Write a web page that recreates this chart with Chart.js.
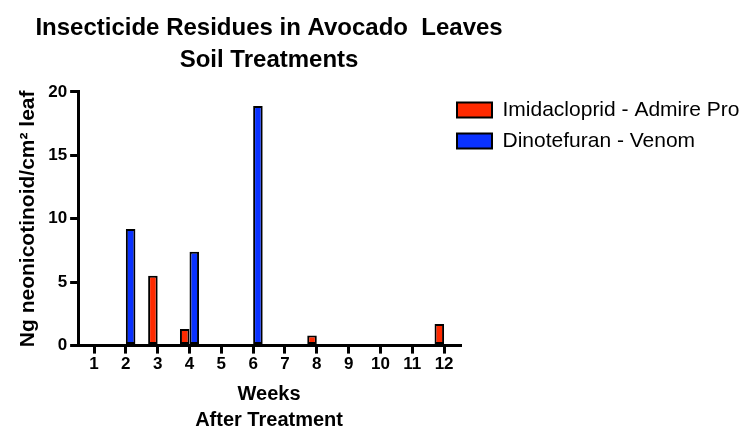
<!DOCTYPE html>
<html>
<head>
<meta charset="utf-8">
<script src="https://cdn.jsdelivr.net/npm/chart.js@4.4.0/dist/chart.umd.min.js"></script>
<style>
html,body{margin:0;padding:0;background:#fff;}
canvas{display:block;}
</style>
</head>
<body>
<canvas id="c" width="740" height="427"></canvas>
<script>
// ---- data ----
const weeks = ['1','2','3','4','5','6','7','8','9','10','11','12'];
const imidacloprid = [0, 0, 5.5, 1.3, 0, 0, 0, 0.8, 0, 0, 0, 1.7];
const dinotefuran  = [0, 9.2, 0, 7.4, 0, 18.9, 0, 0, 0, 0, 0, 0];
const seriesNames = ['Imidacloprid - Admire Pro', 'Dinotefuran - Venom'];
const yTicks = [0, 5, 10, 15, 20];
const titleLines = ['Insecticide Residues in Avocado  Leaves', 'Soil Treatments'];
const xTitleLines = ['Weeks', 'After Treatment'];
const yTitle = 'Ng neonicotinoid/cm\u00B2 leaf';

Chart.defaults.font.family = 'Arial, "Liberation Sans", sans-serif';
Chart.defaults.color = '#000';

// Centre the title over the plot area and tuck the legend against the plot.
const layoutNudge = {
  id: 'layoutNudge',
  afterLayout(chart) {
    const a = chart.chartArea;
    const t = chart.titleBlock;
    if (t) {
      const c = (a.left + a.right) / 2;
      t.left = c - 300; t.right = c + 300;
    }
    const l = chart.legend;
    if (l) { l.left -= 13; l.top -= 2.5; }
  }
};

new Chart(document.getElementById('c'), {
  type: 'bar',
  data: {
    labels: weeks,
    datasets: [
      { label: seriesNames[0], data: imidacloprid, backgroundColor: '#ff2a00', borderColor: '#000', borderWidth: 2, borderSkipped: false },
      { label: seriesNames[1], data: dinotefuran, backgroundColor: '#0a32ff', borderColor: '#000', borderWidth: 2, borderSkipped: false }
    ]
  },
  options: {
    responsive: false,
    animation: false,
    devicePixelRatio: 1,
    layout: { padding: { left: 0, right: 0, top: 0, bottom: 0 } },
    datasets: { bar: { categoryPercentage: 0.6, barPercentage: 1.0 } },
    plugins: {
      tooltip: { enabled: false },
      title: {
        display: true,
        text: titleLines,
        color: '#000',
        font: { size: 24, weight: 'bold', lineHeight: 1.333 },
        padding: { top: 12, bottom: 16 }
      },
      legend: {
        position: 'right',
        align: 'start',
        fullSize: false,
        maxWidth: 280,
        labels: {
          boxWidth: 35,
          boxHeight: 15,
          padding: 10,
          color: '#000',
          font: { size: 21 }
        }
      }
    },
    scales: {
      x: {
        grid: { offset: false, drawOnChartArea: false, drawTicks: true, tickLength: 8, color: '#000', lineWidth: 3 },
        border: { display: true, color: '#000', width: 3 },
        ticks: { color: '#000', font: { size: 17, weight: 'bold' }, padding: 1, maxRotation: 0, autoSkip: false },
        title: {
          display: true,
          text: xTitleLines,
          color: '#000',
          font: { size: 20, weight: 'bold', lineHeight: 1.325 },
          padding: { top: 5, bottom: -7 }
        }
      },
      y: {
        min: yTicks[0],
        max: yTicks[yTicks.length - 1],
        afterBuildTicks(scale) { scale.ticks = yTicks.map(v => ({ value: v })); },
        grid: { drawOnChartArea: false, drawTicks: true, tickLength: 8, color: '#000', lineWidth: 3 },
        border: { display: true, color: '#000', width: 3 },
        ticks: { color: '#000', font: { size: 17, weight: 'bold' }, padding: 3 },
        title: {
          display: true,
          text: yTitle,
          color: '#000',
          font: { size: 21, weight: 'bold' },
          padding: { top: 16, bottom: 4 }
        }
      }
    }
  },
  plugins: [layoutNudge]
});
</script>
</body>
</html>
